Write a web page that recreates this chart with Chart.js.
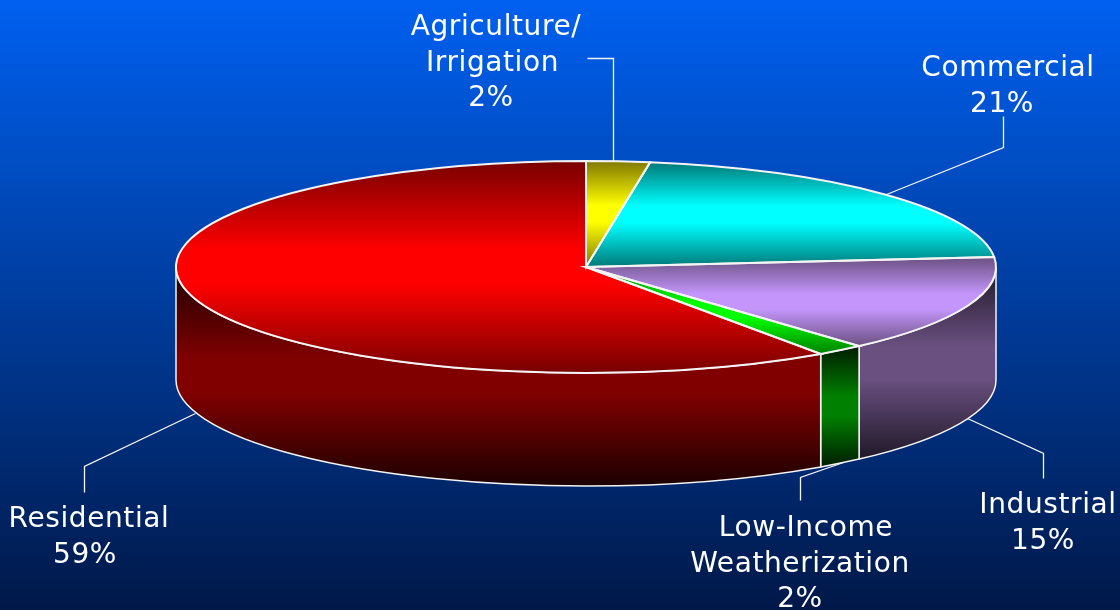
<!DOCTYPE html>
<html>
<head>
<meta charset="utf-8">
<title>Energy savings by sector</title>
<script src="https://cdn.jsdelivr.net/npm/chart.js@4"></script>
<style>
  html, body { margin: 0; padding: 0; background: #001848; overflow: hidden; }
  canvas { display: block; }
</style>
</head>
<body>
<canvas id="pieChart" width="1120" height="610"></canvas>
<script>
// Data (slice sizes, the printed percents are rounded)
const categories = ["Agriculture/Irrigation", "Commercial", "Industrial", "Low-Income Weatherization", "Residential"];
const sliceValues = [2.5, 21, 14.9, 1.9, 59.7];
const percentLabels = ["2%", "21%", "15%", "2%", "59%"];

// Colours: bright = middle of the top face, edge = rim of the top face, wall = side of the pie
const brightColors = ["#ffff00", "#00ffff", "#c496fc", "#00ff00", "#ff0000"];
const edgeColors = ["#807800", "#007878", "#6a5080", "#008000", "#780000"];
const wallColors = ["#807800", "#007878", "#6a5080", "#008000", "#800000"];
const wallDarkColors = ["#202000", "#002020", "#201828", "#001c00", "#1c0000"];

// Shape of the tilted pie on screen
const cx = 586, cy = 267, rx = 410, ry = 106, depth = 113;
const lineColor = "#f4f4f4";

// Text blocks and leader lines
const labelBlocks = [
  { x: 491, y: 35, dx: [5, 1.5, 0], lines: ["Agriculture/", "Irrigation", percentLabels[0]] },
  { x: 1007, y: 76, dx: [1, -5], lines: ["Commercial", percentLabels[1]] },
  { x: 1047, y: 513, dx: [1, -4], lines: ["Industrial", percentLabels[2]] },
  { x: 800, y: 536, dx: [6, 0, 0], lines: ["Low-Income", "Weatherization", percentLabels[3]] },
  { x: 89, y: 527, dx: [0, -4], lines: ["Residential", percentLabels[4]] }
];
const leaderLines = [
  [[587, 58], [613, 58], [613, 161]],
  [[1003, 116], [1003, 147], [886, 194]],
  [[967, 418], [1043, 453], [1043, 478]],
  [[843, 462], [800, 477], [800, 500]],
  [[195, 413], [84, 466], [84, 492]]
];

// Angles of each slice, clockwise from the top
function sliceAngles() {
  const total = sliceValues.reduce((a, b) => a + b, 0);
  let start = 0;
  return sliceValues.map(v => {
    const end = start + v / total * Math.PI * 2;
    const out = [start, end];
    start = end;
    return out;
  });
}

function rimX(a) { return cx + rx * Math.sin(a); }
function rimY(a) { return cy - ry * Math.cos(a); }

// Vertical extent of a slice's rim
function rimBounds(a0, a1) {
  const ys = [rimY(a0), rimY(a1)];
  if (a0 <= 0) ys.push(cy - ry);
  if (a0 <= Math.PI && a1 >= Math.PI) ys.push(cy + ry);
  return { min: Math.min(...ys), max: Math.max(...ys) };
}

// Top face colour: gradient is made in the chart's unsquashed coordinates
function topFill(context) {
  const chart = context.chart;
  const i = context.dataIndex;
  const area = chart.chartArea;
  if (!area) return brightColors[i];
  const R = Math.min(area.width, area.height) / 2;
  const ey = (area.top + area.bottom) / 2;
  const [a0, a1] = sliceAngles()[i];
  const b = rimBounds(a0, a1);
  const yMin = Math.min(b.min, cy), yMax = Math.max(b.max, cy);
  const toChart = y => ey + (y - cy) * R / ry;
  const g = chart.ctx.createLinearGradient(0, toChart(yMin), 0, toChart(yMax));
  g.addColorStop(0, edgeColors[i]);
  g.addColorStop(0.42, brightColors[i]);
  g.addColorStop(0.58, brightColors[i]);
  g.addColorStop(1, edgeColors[i]);
  return g;
}

// Side wall of the pie, only the part facing us
function drawWalls(ctx) {
  sliceAngles().forEach(([a0, a1], i) => {
    const from = Math.max(a0, Math.PI / 2);
    const to = Math.min(a1, Math.PI * 1.5);
    if (to <= from) return;
    const b = rimBounds(from, to);
    const g = ctx.createLinearGradient(0, b.min, 0, b.max + depth);
    g.addColorStop(0, wallDarkColors[i]);
    g.addColorStop(0.42, wallColors[i]);
    g.addColorStop(0.58, wallColors[i]);
    g.addColorStop(1, wallDarkColors[i]);
    ctx.beginPath();
    ctx.ellipse(cx, cy, rx, ry, 0, from - Math.PI / 2, to - Math.PI / 2);
    ctx.lineTo(rimX(to), rimY(to) + depth);
    ctx.ellipse(cx, cy + depth, rx, ry, 0, to - Math.PI / 2, from - Math.PI / 2, true);
    ctx.closePath();
    ctx.fillStyle = g;
    ctx.fill();
    ctx.strokeStyle = lineColor;
    ctx.lineWidth = 1.5;
    ctx.stroke();
  });
}

// White outlines of the top face
function drawOutlines(ctx) {
  ctx.strokeStyle = lineColor;
  ctx.lineWidth = 2;
  sliceAngles().forEach(([a0, a1]) => {
    ctx.beginPath();
    ctx.moveTo(cx, cy);
    ctx.ellipse(cx, cy, rx, ry, 0, a0 - Math.PI / 2, a1 - Math.PI / 2);
    ctx.closePath();
    ctx.stroke();
  });
}

function drawLabels(ctx) {
  ctx.strokeStyle = lineColor;
  ctx.lineWidth = 1.3;
  leaderLines.forEach(points => {
    ctx.beginPath();
    points.forEach((p, i) => i ? ctx.lineTo(p[0] + 0.5, p[1] + 0.5) : ctx.moveTo(p[0] + 0.5, p[1] + 0.5));
    ctx.stroke();
  });
  ctx.fillStyle = "#ffffff";
  ctx.font = '28px "DejaVu Sans"';
  ctx.letterSpacing = "0.6px";
  ctx.textAlign = "center";
  ctx.textBaseline = "alphabetic";
  labelBlocks.forEach(block => {
    block.lines.forEach((line, i) => {
      ctx.fillText(line, block.x + block.dx[i], block.y + i * 35.5);
    });
  });
}

const tiltedPie = {
  id: "tiltedPie",
  beforeDraw(chart) {
    const ctx = chart.ctx;
    const g = ctx.createLinearGradient(0, 0, 0, chart.height);
    g.addColorStop(0, "#0060f0");
    g.addColorStop(1, "#001848");
    ctx.save();
    ctx.fillStyle = g;
    ctx.fillRect(0, 0, chart.width, chart.height);
    ctx.restore();
  },
  beforeDatasetDraw(chart) {
    const ctx = chart.ctx;
    ctx.save();
    drawWalls(ctx);
    ctx.restore();
    // squash the round pie into the tilted ellipse
    const arc = chart.getDatasetMeta(0).data[0];
    ctx.save();
    ctx.translate(cx, cy);
    ctx.scale(rx / arc.outerRadius, ry / arc.outerRadius);
    ctx.translate(-arc.x, -arc.y);
  },
  afterDatasetDraw(chart) {
    const ctx = chart.ctx;
    ctx.restore();
    ctx.save();
    drawOutlines(ctx);
    ctx.restore();
  },
  afterDraw(chart) {
    const ctx = chart.ctx;
    ctx.save();
    drawLabels(ctx);
    ctx.restore();
  }
};

new Chart(document.getElementById("pieChart").getContext("2d"), {
  type: "pie",
  data: {
    labels: categories,
    datasets: [{
      data: sliceValues,
      backgroundColor: topFill,
      borderWidth: 0,
      hoverOffset: 0
    }]
  },
  options: {
    responsive: false,
    animation: false,
    layout: { padding: 0 },
    plugins: {
      legend: { display: false },
      tooltip: { enabled: false }
    }
  },
  plugins: [tiltedPie]
});
</script>
</body>
</html>
